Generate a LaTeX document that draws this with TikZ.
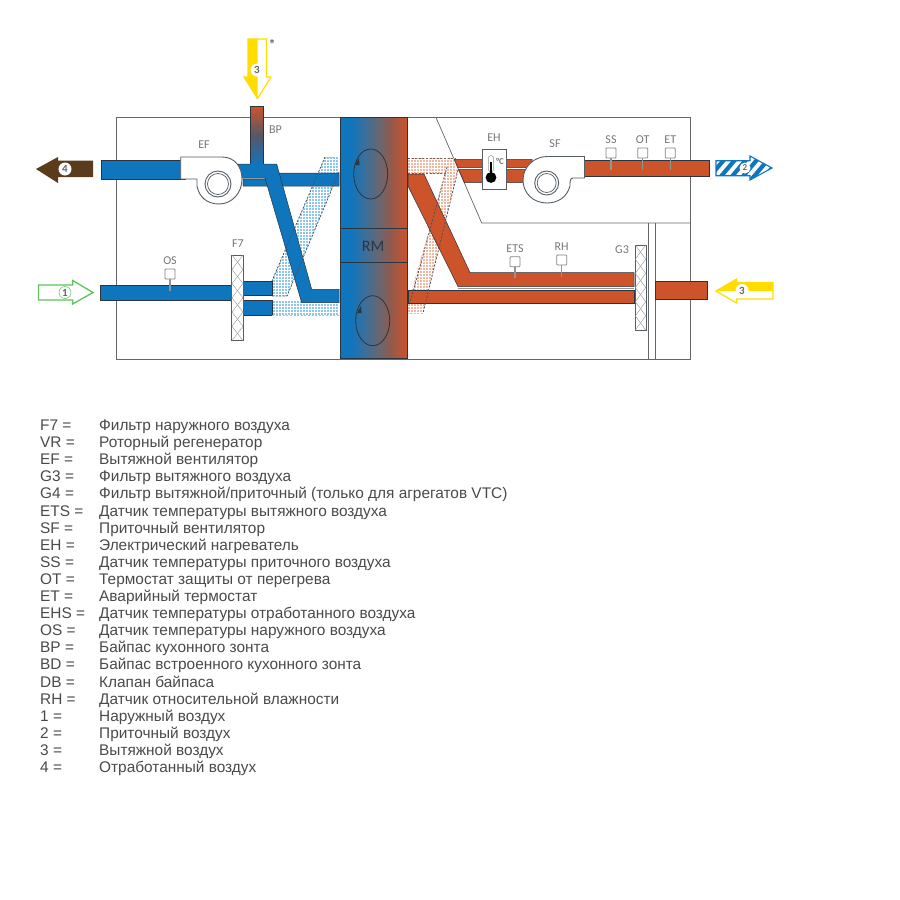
\documentclass[tikz,border=0pt]{standalone}
\usepackage{fontspec}
\setmainfont{Liberation Sans}
\newfontfamily\diagfont{Carlito}
\usetikzlibrary{arrows.meta}
\definecolor{ductblue}{HTML}{0F75BD}
\definecolor{ductred}{HTML}{CD532B}
\definecolor{hatchblue}{HTML}{8FC6EC}
\definecolor{hatchred}{HTML}{F3B7A2}
\definecolor{arrowyellow}{HTML}{FFDD00}
\definecolor{arrowgreen}{HTML}{5CC45C}
\definecolor{arrowbrown}{HTML}{5A3B1C}
\definecolor{framegray}{HTML}{666666}
\definecolor{labelgray}{HTML}{777777}
\definecolor{legendgray}{HTML}{4A4A4A}
\definecolor{ductedge}{HTML}{2A3540}
\definecolor{rotormidA}{HTML}{3A6F9C}
\definecolor{rotormidB}{HTML}{5F6878}
\definecolor{rotormidC}{HTML}{96594A}
\pgfdeclarehorizontalshading{rotorshade}{100bp}{color(0bp)=(ductblue); color(25bp)=(ductblue); color(33bp)=(ductblue); color(43bp)=(rotormidA); color(52bp)=(rotormidB); color(63bp)=(rotormidC); color(75bp)=(ductred); color(100bp)=(ductred)}
\tikzset{
  frameline/.style={draw=framegray,line width=0.9pt},
  blueduct/.style={fill=ductblue,draw=ductedge,line width=0.5pt,line join=miter},
  redduct/.style={fill=ductred,draw=ductedge,line width=0.5pt,line join=miter},
  dotline/.style={draw=ductedge!85!white,line width=0.8pt,dash pattern=on 2pt off 1.6pt},
  gridline/.style={draw=white,line width=0.3pt},
  housing/.style={fill=white,draw=ductedge!80!white,line width=0.9pt},
  filterbox/.style={fill=white,draw=ductedge!80!white,line width=0.9pt},
  zigline/.style={draw=framegray!70!white,line width=0.4pt},
  sensorbox/.style={fill=white,draw=framegray!80!white,line width=0.8pt,rounded corners=0.8pt},
  stem/.style={draw=framegray!70!white,line width=1.5pt},
  lbl/.style={text=labelgray,font=\diagfont\fontsize{12}{12}\selectfont,inner sep=0pt},
  badge/.style={circle,fill=white,inner sep=0pt,minimum size=13pt,text=framegray,font=\diagfont\bfseries\fontsize{11}{11}\selectfont},
  legkey/.style={anchor=base west,inner sep=0pt,text=legendgray,font=\fontsize{15.4}{16}\selectfont},
}
\newcommand{\gridfill}[2]{%
  \begin{scope}
    \clip #2;
    \fill[#1] (260,150) rectangle (470,320);
    \foreach \gx in {260,263,...,470} {\draw[gridline] (\gx,150) -- (\gx,320);}
    \foreach \gy in {150,153,...,320} {\draw[gridline] (260,\gy) -- (470,\gy);}
  \end{scope}}
\newcommand{\legrow}[3]{%
  \node[legkey] (k#1) at (40,{430.5+17.1*(#1)}) {#2};
  \node[legkey] (t#1) at (99,{430.5+17.1*(#1)}) {#3};}
\newcommand{\sensor}[5]{% name, x, box y, stem end y, label
  \draw[stem] (#2,#3) -- (#2,#4);
  \draw[sensorbox] (#2-5,#3-5) rectangle (#2+5,#3+5);
  \node[lbl] (#1) at (#2,#3-13.5) {#5};}
\begin{document}
\begin{tikzpicture}[x=1pt,y=-1pt]
\useasboundingbox (0,0) rectangle (900,900);
\fill[white] (0,0) rectangle (900,900);

% casing and partitions
\draw[frameline] (116,117.5) rectangle (690,359.5);
\draw[frameline,line width=0.7pt] (436,117.5) -- (481.7,223) -- (690,223);
\draw[frameline,line width=0.7pt] (648,223) -- (648,359.5);
\draw[frameline,line width=0.7pt] (655,223) -- (655,359.5);

% hatched passages, blue side
\gridfill{hatchblue}{(325,157) -- (339,157) -- (339,172) -- (287,296) -- (272,296) -- (272,281) -- cycle}
\gridfill{hatchblue}{(272,300.7) rectangle (339,315)}

% hatched passages, red side
\gridfill{hatchred}{(408,158.5) rectangle (456,173)}
\gridfill{hatchred}{(447,167) -- (458,170) -- (423,313) -- (408,313) -- (408,303) -- cycle}

% blue ducts
\fill[blueduct] (101,160) rectangle (185,179);
\path[blueduct] (243,179) -- (272,179) -- (277,173) -- (339,173) -- (339,186) -- (243,186) -- cycle;
\path[blueduct] (238,164) -- (276.7,164) -- (311.7,289.3) -- (339,289.3) -- (339,302.7) -- (301.7,302.7) -- (265,178) -- (238,178) -- cycle;
\path[blueduct] (100,285.7) rectangle (233,300);
\path[blueduct] (243,281) rectangle (272,295);
\path[blueduct] (243,300.7) rectangle (272,315);

% by-pass stack
\shade[top color=ductred,bottom color=ductblue,middle color=ductred!45!ductblue!85!black] (250.7,106.7) rectangle (263.3,165);
\draw[ductedge,line width=0.5pt] (250.7,164) -- (250.7,106.7) -- (263.3,106.7) -- (263.3,164);

% dotted edges, blue side
\draw[dotline] (325,157) -- (272,281);
\draw[dotline] (272,296) -- (287,296) -- (339,172);
\draw[dotline,draw=hatchblue] (272,315) -- (339,315);
\draw[dotline,draw=hatchblue] (325,157) -- (339,157);

% red ducts
\path[redduct] (454,159.3) -- (532,159.3) -- (532,167.7) -- (458,167.7) -- cycle;
\path[redduct] (458.5,169.3) -- (530,169.3) -- (530,182.7) -- (464.5,182.7) -- cycle;
\path[redduct] (408,174) -- (424,174) -- (470,272.5) -- (634,272.5) -- (634,286.5) -- (458,286.5) -- (408,186) -- cycle;
\path[redduct] (408,290) rectangle (634,303);
\path[redduct] (655,281.7) rectangle (707.7,299);
\path[redduct] (584,160.7) rectangle (709,176);
\draw[framegray!70!white,line width=1.2pt] (458,288.2) -- (634,288.2);

% dotted edges, red side
\draw[dotline,draw=framegray] (408,158.5) -- (456,158.5);
\draw[dotline,draw=framegray] (408,173) -- (447,173);
\draw[dotline] (447,167) -- (410,303);
\draw[dotline] (458,170) -- (423,313);
\draw[dotline,draw=hatchred] (423,313) -- (408,313);

% rotor
\shade[shading=rotorshade] (340,117.5) rectangle (407.7,358.5);
\draw[ductedge,line width=0.7pt] (340,117.5) rectangle (407.7,358.5);
\draw[ductedge,line width=0.9pt] (340,228) -- (407.7,228);
\draw[ductedge,line width=0.9pt] (340,262) -- (407.7,262);
\node[text=ductedge,font=\diagfont\fontsize{16}{16}\selectfont,inner sep=0pt] (rm) at (373,246) {RM};
\draw[ductedge,line width=0.8pt] (370.7,174) ellipse (17 and 25);
\fill[ductedge] (355,165) -- (359,158) -- (359.5,165) -- cycle;
\draw[ductedge,line width=0.8pt] (372.7,320.7) ellipse (17 and 25);
\fill[ductedge] (357,313) -- (361,306) -- (361.5,313) -- cycle;

% exhaust fan
\path[housing] (180.7,179) -- (180.7,157) -- (222,157)
  .. controls (234,157) and (242,166) .. (242,179)
  .. controls (242,193) and (232,204) .. (219,204)
  .. controls (207,204) and (199,197) .. (197,186) -- (197,179) -- cycle;
\draw[housing] (218,184) circle (13);
\draw[ductedge!80!white,line width=0.7pt] (218,184) circle (10.5);

% supply fan
\path[housing] (547,156.5) -- (584.5,156.5) -- (584.5,178) -- (573,178)
  .. controls (570,178) and (570,182) .. (570,186)
  .. controls (567,197) and (558,203) .. (547,203)
  .. controls (533,203) and (523,193) .. (523,180)
  .. controls (523,167) and (534,156.5) .. (547,156.5) -- cycle;
\draw[housing] (546.7,183) circle (12);
\draw[ductedge!80!white,line width=0.7pt] (546.7,183) circle (9.5);

% heater
\draw[filterbox] (482.7,149.3) rectangle (506.7,189.3);
\draw[framegray!70!white,line width=0.5pt,fill=white,rounded corners=1.5pt] (488.7,155.5) rectangle (493.3,172);
\fill[black] (490,162) rectangle (492,173);
\fill[black] (491,177.5) circle (5.4);
\node[text=labelgray,font=\diagfont\bfseries\fontsize{9}{9}\selectfont,inner sep=0pt] (deg) at (500,161) {°C};

% filters
\draw[filterbox] (231.7,255) rectangle (243.3,340.7);
\foreach \zy in {255,283.5,312} {
  \draw[zigline] (232,\zy) -- (243,\zy+14.3) -- (232,\zy+28.6);
  \draw[zigline] (243,\zy) -- (232,\zy+14.3) -- (243,\zy+28.6);
}
\draw[filterbox] (635,245) rectangle (646,330);
\foreach \zy in {245,273.3,301.6} {
  \draw[zigline] (635.3,\zy) -- (645.7,\zy+14.2) -- (635.3,\zy+28.4);
  \draw[zigline] (645.7,\zy) -- (635.3,\zy+14.2) -- (645.7,\zy+28.4);
}

% sensors
\sensor{os}{170}{274}{290.7}{OS}
\sensor{ss}{611}{153}{170}{SS}
\sensor{ot}{642.7}{153}{170}{OT}
\sensor{et}{670.3}{153}{170}{ET}
\sensor{ets}{515}{261.7}{278}{ETS}
\sensor{rh}{561.7}{260}{277}{RH}

% component labels
\node[lbl] (ef) at (204,145) {EF};
\node[lbl] (bp) at (275.5,129.5) {BP};
\node[lbl] (f7) at (238,244) {F7};
\node[lbl] (eh) at (494,138) {EH};
\node[lbl] (sf) at (555,144) {SF};
\node[lbl] (g3) at (622,250) {G3};
\node[text=framegray,font=\diagfont\bfseries\fontsize{14}{14}\selectfont,inner sep=0pt] (star) at (272,44) {*};

% arrow 4
\fill[arrowbrown] (36,169) -- (58,157) -- (58,160.7) -- (93,160.7) -- (93,177) -- (58,177) -- (58,183) -- cycle;
\node[badge] (a4) at (65,169) {4};

% arrow 1
\draw[arrowgreen,line width=1.3pt,fill=white] (38.5,285) -- (72.7,285) -- (72.7,280.5) -- (93,292.5) -- (72.7,304) -- (72.7,300) -- (38.5,300) -- cycle;
\node[badge,draw=arrowgreen,line width=0.5pt,minimum size=12pt] (a1) at (65,292.5) {1};

% arrow 3, top
\draw[arrowyellow,line width=1.2pt,fill=white] (248,39) -- (266.5,39) -- (266.5,77) -- (271,77) -- (257.5,98.5) -- (244,77) -- (248,77) -- cycle;
\fill[arrowyellow] (248,39) -- (257.5,39) -- (257.5,98.5) -- (244,77) -- (248,77) -- cycle;
\node[badge] (a3top) at (257,70) {3};

% arrow 3, right
\draw[arrowyellow,line width=1.2pt,fill=white] (773,282.5) -- (773,299) -- (736.7,299) -- (736.7,303) -- (716,291) -- (736.7,279) -- (736.7,282.5) -- cycle;
\fill[arrowyellow] (773,282.5) -- (773,291) -- (716,291) -- (736.7,279) -- (736.7,282.5) -- cycle;
\node[badge] (a3r) at (742,290.5) {3};

% arrow 2
\begin{scope}
  \clip (716,160.7) -- (750,160.7) -- (750,156) -- (772,168) -- (750,180) -- (750,175.7) -- (716,175.7) -- cycle;
  \fill[white] (710,150) rectangle (780,185);
  \foreach \sx in {700,711,...,790} {\fill[ductblue] (\sx,185) -- (\sx+5.5,185) -- (\sx+35,150) -- (\sx+29.5,150) -- cycle;}
\end{scope}
\draw[ductblue,line width=1.1pt] (716,160.7) -- (750,160.7) -- (750,156) -- (772,168) -- (750,180) -- (750,175.7) -- (716,175.7) -- cycle;
\node[badge,minimum size=11pt,font=\diagfont\bfseries\fontsize{9}{9}\selectfont] (a2) at (745,168) {2};

% legend
\legrow{0}{F7 =}{Фильтр наружного воздуха}
\legrow{1}{VR =}{Роторный регенератор}
\legrow{2}{EF =}{Вытяжной вентилятор}
\legrow{3}{G3 =}{Фильтр вытяжного воздуха}
\legrow{4}{G4 =}{Фильтр вытяжной/приточный (только для агрегатов VTC)}
\legrow{5}{ETS =}{Датчик температуры вытяжного воздуха}
\legrow{6}{SF =}{Приточный вентилятор}
\legrow{7}{EH =}{Электрический нагреватель}
\legrow{8}{SS =}{Датчик температуры приточного воздуха}
\legrow{9}{OT =}{Термостат защиты от перегрева}
\legrow{10}{ET =}{Аварийный термостат}
\legrow{11}{EHS =}{Датчик температуры отработанного воздуха}
\legrow{12}{OS =}{Датчик температуры наружного воздуха}
\legrow{13}{BP =}{Байпас кухонного зонта}
\legrow{14}{BD =}{Байпас встроенного кухонного зонта}
\legrow{15}{DB =}{Клапан байпаса}
\legrow{16}{RH =}{Датчик относительной влажности}
\legrow{17}{1 =}{Наружный воздух}
\legrow{18}{2 =}{Приточный воздух}
\legrow{19}{3 =}{Вытяжной воздух}
\legrow{20}{4 =}{Отработанный воздух}
\end{tikzpicture}
\end{document}
